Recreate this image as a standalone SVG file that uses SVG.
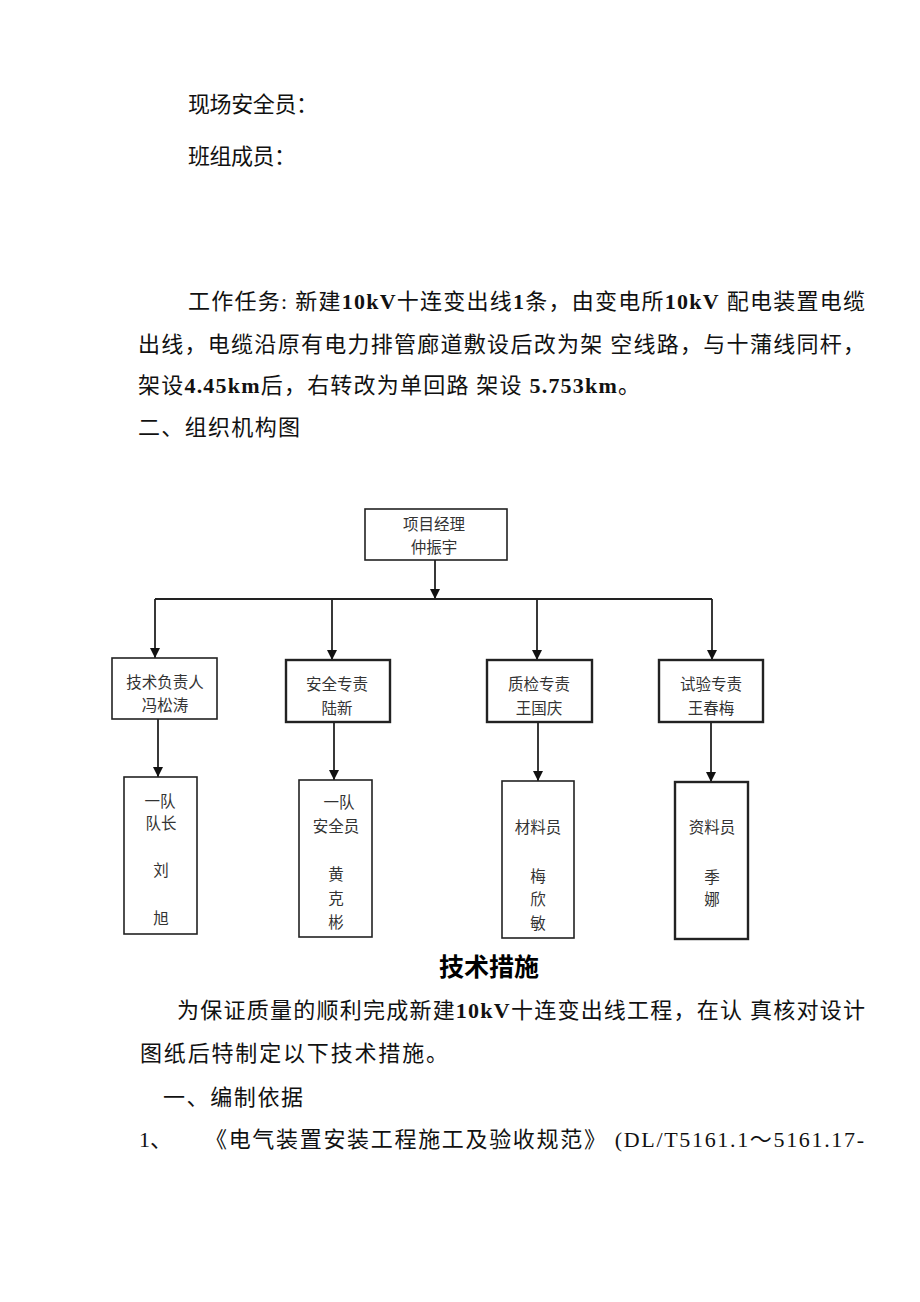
<svg xmlns="http://www.w3.org/2000/svg" width="920" height="1302" viewBox="0 0 920 1302">
<style>
.body{font-family:"Liberation Serif","Noto Sans CJK SC",serif;font-size:22px;fill:#111}
.b{font-weight:bold}
.title{font-family:"Noto Sans CJK SC",sans-serif;font-size:25px;font-weight:bold;fill:#000}
.node{fill:#fff;stroke:#222;stroke-width:1.6}
.thick{stroke-width:2.4}
.nt{font-family:"Noto Sans CJK SC",sans-serif;font-size:15.5px;fill:#333;text-anchor:middle}
.conn{stroke:#222;stroke-width:1.8;fill:none}
</style>
<defs>
<marker id="arr" viewBox="0 0 10 10" refX="10" refY="5" markerWidth="10" markerHeight="10" markerUnits="userSpaceOnUse" orient="auto">
<path d="M0,0 L10,5 L0,10 z" fill="#111"/>
</marker>
</defs>
<rect width="920" height="1302" fill="#fff"/>

<g id="text-top">
<text class="body" x="188" y="112" textLength="130" lengthAdjust="spacing">现场安全员：</text>
<text class="body" x="188" y="164" textLength="108" lengthAdjust="spacing">班组成员：</text>
<text class="body" x="188" y="309" textLength="677" lengthAdjust="spacing">工作任务: 新建<tspan class="b">10kV</tspan>十连变出线<tspan class="b">1</tspan>条，由变电所<tspan class="b">10kV</tspan> 配电装置电缆</text>
<text class="body" x="138" y="352" textLength="727" lengthAdjust="spacing">出线，电缆沿原有电力排管廊道敷设后改为架 空线路，与十蒲线同杆，</text>
<text class="body" x="138" y="393" textLength="502" lengthAdjust="spacing">架设<tspan class="b">4.45km</tspan>后，右转改为单回路 架设 <tspan class="b">5.753km</tspan>。</text>
<text class="body" x="138" y="435" textLength="162" lengthAdjust="spacing">二、组织机构图</text>
</g>

<g id="connectors">
<line class="conn" x1="435" y1="560" x2="435" y2="599" marker-end="url(#arr)"/>
<line class="conn" x1="155" y1="599" x2="712" y2="599"/>
<line class="conn" x1="155" y1="599" x2="155" y2="658" marker-end="url(#arr)"/>
<line class="conn" x1="332" y1="599" x2="332" y2="660" marker-end="url(#arr)"/>
<line class="conn" x1="537" y1="599" x2="537" y2="660" marker-end="url(#arr)"/>
<line class="conn" x1="712" y1="599" x2="712" y2="660" marker-end="url(#arr)"/>
<line class="conn" x1="158" y1="719" x2="158" y2="777" marker-end="url(#arr)"/>
<line class="conn" x1="334" y1="722" x2="334" y2="780" marker-end="url(#arr)"/>
<line class="conn" x1="538" y1="722" x2="538" y2="781" marker-end="url(#arr)"/>
<line class="conn" x1="711" y1="722" x2="711" y2="782" marker-end="url(#arr)"/>
</g>

<g id="pm">
<rect class="node" x="365" y="509" width="142" height="51"/>
<text class="nt" x="434" y="530">项目经理</text>
<text class="nt" x="434" y="553">仲振宇</text>
</g>
<g id="tech">
<rect class="node" x="112" y="658" width="105" height="61"/>
<text class="nt" x="165" y="688">技术负责人</text>
<text class="nt" x="165" y="711">冯松涛</text>
</g>
<g id="safety">
<rect class="node thick" x="286" y="660" width="104" height="62"/>
<text class="nt" x="337" y="690">安全专责</text>
<text class="nt" x="337" y="714">陆新</text>
</g>
<g id="quality">
<rect class="node thick" x="487" y="660" width="105" height="62"/>
<text class="nt" x="539" y="690">质检专责</text>
<text class="nt" x="539" y="714">王国庆</text>
</g>
<g id="test">
<rect class="node thick" x="659" y="660" width="104" height="62"/>
<text class="nt" x="711" y="690">试验专责</text>
<text class="nt" x="711" y="714">王春梅</text>
</g>
<g id="team-leader">
<rect class="node" x="124" y="777" width="73" height="157"/>
<text class="nt" x="160" y="807">一队</text>
<text class="nt" x="161" y="829">队长</text>
<text class="nt" x="161" y="876">刘</text>
<text class="nt" x="161" y="924">旭</text>
</g>
<g id="team-safety">
<rect class="node" x="299" y="780" width="73" height="157"/>
<text class="nt" x="339" y="808">一队</text>
<text class="nt" x="336" y="832">安全员</text>
<text class="nt" x="336" y="880">黄</text>
<text class="nt" x="336" y="904">克</text>
<text class="nt" x="336" y="928">彬</text>
</g>
<g id="material">
<rect class="node" x="502" y="781" width="72" height="157"/>
<text class="nt" x="538" y="833">材料员</text>
<text class="nt" x="538" y="882">梅</text>
<text class="nt" x="538" y="905">欣</text>
<text class="nt" x="538" y="929">敏</text>
</g>
<g id="docs">
<rect class="node thick" x="675" y="782" width="73" height="157"/>
<text class="nt" x="712" y="833">资料员</text>
<text class="nt" x="712" y="883">季</text>
<text class="nt" x="712" y="905">娜</text>
</g>

<g id="text-bottom">
<text class="title" x="489" y="976" text-anchor="middle">技术措施</text>
<text class="body" x="177" y="1018" textLength="688" lengthAdjust="spacing">为保证质量的顺利完成新建<tspan class="b">10kV</tspan>十连变出线工程，在认 真核对设计</text>
<text class="body" x="140" y="1061" textLength="308" lengthAdjust="spacing">图纸后特制定以下技术措施。</text>
<text class="body" x="163" y="1105" textLength="140" lengthAdjust="spacing">一、编制依据</text>
<text class="body" x="139" y="1147">1、</text>
<text class="body" x="205" y="1147" textLength="659" lengthAdjust="spacing">《电气装置安装工程施工及验收规范》 (DL/T5161.1～5161.17-</text>
</g>
</svg>
